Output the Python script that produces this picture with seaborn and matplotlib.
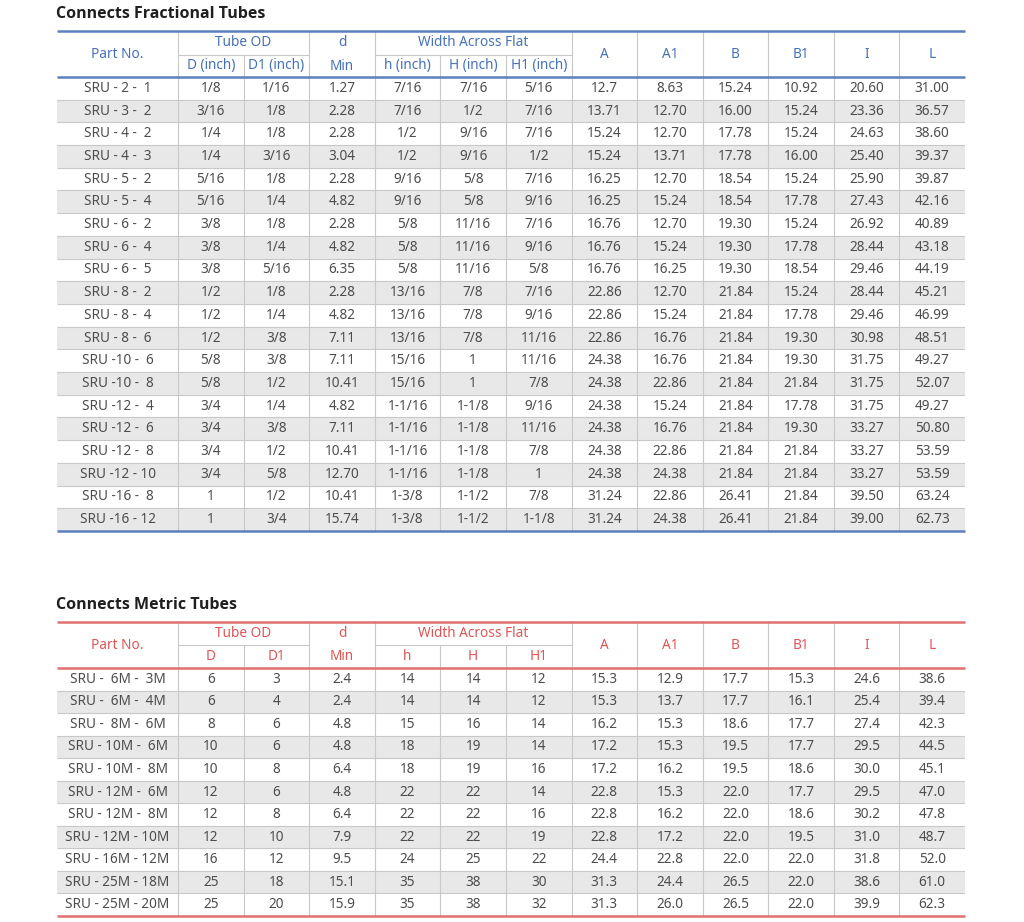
import numpy as np
import pandas as pd
import matplotlib
matplotlib.use("Agg")
import matplotlib.pyplot as plt
from matplotlib.colors import ListedColormap
import seaborn as sns

sns.set_theme(style="white")
plt.rcParams['font.family'] = ['Noto Sans', 'DejaVu Sans']

# Fractional tube table
frac_part = ["SRU - 2 -  1", "SRU - 3 -  2", "SRU - 4 -  2", "SRU - 4 -  3", "SRU - 5 -  2",
             "SRU - 5 -  4", "SRU - 6 -  2", "SRU - 6 -  4", "SRU - 6 -  5", "SRU - 8 -  2",
             "SRU - 8 -  4", "SRU - 8 -  6", "SRU -10 -  6", "SRU -10 -  8", "SRU -12 -  4",
             "SRU -12 -  6", "SRU -12 -  8", "SRU -12 - 10", "SRU -16 -  8", "SRU -16 - 12"]
frac_D = ["1/8", "3/16", "1/4", "1/4", "5/16", "5/16", "3/8", "3/8", "3/8", "1/2",
          "1/2", "1/2", "5/8", "5/8", "3/4", "3/4", "3/4", "3/4", "1", "1"]
frac_D1 = ["1/16", "1/8", "1/8", "3/16", "1/8", "1/4", "1/8", "1/4", "5/16", "1/8",
           "1/4", "3/8", "3/8", "1/2", "1/4", "3/8", "1/2", "5/8", "1/2", "3/4"]
frac_d = ["1.27", "2.28", "2.28", "3.04", "2.28", "4.82", "2.28", "4.82", "6.35", "2.28",
          "4.82", "7.11", "7.11", "10.41", "4.82", "7.11", "10.41", "12.70", "10.41", "15.74"]
frac_h = ["7/16", "7/16", "1/2", "1/2", "9/16", "9/16", "5/8", "5/8", "5/8", "13/16",
          "13/16", "13/16", "15/16", "15/16", "1-1/16", "1-1/16", "1-1/16", "1-1/16", "1-3/8", "1-3/8"]
frac_H = ["7/16", "1/2", "9/16", "9/16", "5/8", "5/8", "11/16", "11/16", "11/16", "7/8",
          "7/8", "7/8", "1", "1", "1-1/8", "1-1/8", "1-1/8", "1-1/8", "1-1/2", "1-1/2"]
frac_H1 = ["5/16", "7/16", "7/16", "1/2", "7/16", "9/16", "7/16", "9/16", "5/8", "7/16",
           "9/16", "11/16", "11/16", "7/8", "9/16", "11/16", "7/8", "1", "7/8", "1-1/8"]
frac_A = ["12.7", "13.71", "15.24", "15.24", "16.25", "16.25", "16.76", "16.76", "16.76", "22.86",
          "22.86", "22.86", "24.38", "24.38", "24.38", "24.38", "24.38", "24.38", "31.24", "31.24"]
frac_A1 = ["8.63", "12.70", "12.70", "13.71", "12.70", "15.24", "12.70", "15.24", "16.25", "12.70",
           "15.24", "16.76", "16.76", "22.86", "15.24", "16.76", "22.86", "24.38", "22.86", "24.38"]
frac_B = ["15.24", "16.00", "17.78", "17.78", "18.54", "18.54", "19.30", "19.30", "19.30", "21.84",
          "21.84", "21.84", "21.84", "21.84", "21.84", "21.84", "21.84", "21.84", "26.41", "26.41"]
frac_B1 = ["10.92", "15.24", "15.24", "16.00", "15.24", "17.78", "15.24", "17.78", "18.54", "15.24",
           "17.78", "19.30", "19.30", "21.84", "17.78", "19.30", "21.84", "21.84", "21.84", "21.84"]
frac_I = ["20.60", "23.36", "24.63", "25.40", "25.90", "27.43", "26.92", "28.44", "29.46", "28.44",
          "29.46", "30.98", "31.75", "31.75", "31.75", "33.27", "33.27", "33.27", "39.50", "39.00"]
frac_L = ["31.00", "36.57", "38.60", "39.37", "39.87", "42.16", "40.89", "43.18", "44.19", "45.21",
          "46.99", "48.51", "49.27", "52.07", "49.27", "50.80", "53.59", "53.59", "63.24", "62.73"]

# Metric tube table
met_part = ["SRU -  6M -  3M", "SRU -  6M -  4M", "SRU -  8M -  6M", "SRU - 10M -  6M",
            "SRU - 10M -  8M", "SRU - 12M -  6M", "SRU - 12M -  8M", "SRU - 12M - 10M",
            "SRU - 16M - 12M", "SRU - 25M - 18M", "SRU - 25M - 20M"]
met_D = ["6", "6", "8", "10", "10", "12", "12", "12", "16", "25", "25"]
met_D1 = ["3", "4", "6", "6", "8", "6", "8", "10", "12", "18", "20"]
met_d = ["2.4", "2.4", "4.8", "4.8", "6.4", "4.8", "6.4", "7.9", "9.5", "15.1", "15.9"]
met_h = ["14", "14", "15", "18", "18", "22", "22", "22", "24", "35", "35"]
met_H = ["14", "14", "16", "19", "19", "22", "22", "22", "25", "38", "38"]
met_H1 = ["12", "12", "14", "14", "16", "14", "16", "19", "22", "30", "32"]
met_A = ["15.3", "15.3", "16.2", "17.2", "17.2", "22.8", "22.8", "22.8", "24.4", "31.3", "31.3"]
met_A1 = ["12.9", "13.7", "15.3", "15.3", "16.2", "15.3", "16.2", "17.2", "22.8", "24.4", "26.0"]
met_B = ["17.7", "17.7", "18.6", "19.5", "19.5", "22.0", "22.0", "22.0", "22.0", "26.5", "26.5"]
met_B1 = ["15.3", "16.1", "17.7", "17.7", "18.6", "17.7", "18.6", "19.5", "22.0", "22.0", "22.0"]
met_I = ["24.6", "25.4", "27.4", "29.5", "30.0", "29.5", "30.2", "31.0", "31.8", "38.6", "39.9"]
met_L = ["38.6", "39.4", "42.3", "44.5", "45.1", "47.0", "47.8", "48.7", "52.0", "61.0", "62.3"]

frac_sub = ["D (inch)", "D1 (inch)", "h (inch)", "H (inch)", "H1 (inch)"]
met_sub = ["D", "D1", "h", "H", "H1"]
dim_cols = ["A", "A1", "B", "B1", "I", "L"]

frac_df = pd.DataFrame({"D": frac_D, "D1": frac_D1, "d": frac_d, "h": frac_h, "H": frac_H,
                        "H1": frac_H1, "A": frac_A, "A1": frac_A1, "B": frac_B, "B1": frac_B1,
                        "I": frac_I, "L": frac_L})
met_df = pd.DataFrame({"D": met_D, "D1": met_D1, "d": met_d, "h": met_h, "H": met_H,
                       "H1": met_H1, "A": met_A, "A1": met_A1, "B": met_B, "B1": met_B1,
                       "I": met_I, "L": met_L})

W, HGT = 1024, 922
fig = plt.figure(figsize=(W / 100, HGT / 100), dpi=100)
fig.patch.set_facecolor("white")

TEXT = "#4d4d4d"
GRID = "#c8c8c8"
SHADE = ListedColormap(["white", "#e8e8e8"])
FS = 9.8
X0, XP, X1 = 57, 178, 965
edges = [X0] + list(np.linspace(XP, X1, 13))


def rect(x0, y0, x1, y1):
    return [x0 / W, 1 - y1 / HGT, (x1 - x0) / W, (y1 - y0) / HGT]


def body(values, top, bottom):
    n, m = values.shape
    shade = np.tile((np.arange(n) % 2)[:, None], (1, m))
    ax = fig.add_axes(rect(XP, top, X1, bottom))
    sns.heatmap(shade, annot=values, fmt="", cmap=SHADE, vmin=0, vmax=1, cbar=False,
                xticklabels=False, yticklabels=False, ax=ax,
                annot_kws=dict(color=TEXT, fontsize=FS))
    ax.hlines(np.arange(1, n), 0, m, color=GRID, lw=0.8)
    ax.vlines(np.arange(0, m), 0, n, color=GRID, lw=0.8, clip_on=False)
    return ax


def part_col(parts, top, bottom):
    n = len(parts)
    shade = (np.arange(n) % 2)[:, None]
    ax = fig.add_axes(rect(X0, top, XP, bottom))
    sns.heatmap(shade, annot=np.array(parts)[:, None], fmt="", cmap=SHADE, vmin=0, vmax=1,
                cbar=False, xticklabels=False, yticklabels=False, ax=ax,
                annot_kws=dict(color=TEXT, fontsize=FS))
    ax.hlines(np.arange(1, n), 0, 1, color=GRID, lw=0.8)
    return ax


def table(ov, title, df, parts, subs, accent, head_col, top, mid, hb, bottom):
    part_col(parts, hb, bottom)
    body(df.values, hb, bottom)
    ov.text(X0 - 1, top - 17, title, fontsize=11.5, fontweight="bold", color="#1f1f1f",
            va="center", ha="left", family=["Open Sans", "DejaVu Sans"])
    # grey header separators
    full = [1, 3, 4, 7, 8, 9, 10, 11, 12]
    for i in full:
        ov.plot([edges[i], edges[i]], [top, hb], color=GRID, lw=0.8)
    for i in [2, 5, 6]:
        ov.plot([edges[i], edges[i]], [mid, hb], color=GRID, lw=0.8)
    ov.plot([edges[1], edges[3]], [mid, mid], color=GRID, lw=0.8)
    ov.plot([edges[4], edges[7]], [mid, mid], color=GRID, lw=0.8)
    # accent rules
    for y in [top, hb, bottom]:
        ov.plot([X0, X1], [y, y], color=accent, lw=1.8, solid_capstyle="butt")
    r1 = (top + mid) / 2
    r2 = (mid + hb) / 2
    rb = (top + hb) / 2
    kw = dict(color=head_col, fontsize=FS, ha="center", va="center")
    ov.text((edges[0] + edges[1]) / 2, rb, "Part No.", **kw)
    ov.text(edges[2], r1, "Tube OD", **kw)
    ov.text((edges[3] + edges[4]) / 2, r1, "d", **kw)
    ov.text((edges[3] + edges[4]) / 2, r2, "Min", **kw)
    ov.text((edges[4] + edges[7]) / 2, r1, "Width Across Flat", **kw)
    sub_idx = [1, 2, 4, 5, 6]
    for lab, i in zip(subs, sub_idx):
        ov.text((edges[i] + edges[i + 1]) / 2, r2, lab, **kw)
    for j, lab in enumerate(dim_cols):
        i = 7 + j
        ov.text((edges[i] + edges[i + 1]) / 2, rb, lab, **kw)


ov = fig.add_axes([0, 0, 1, 1], zorder=5)
ov.set_xlim(0, W)
ov.set_ylim(HGT, 0)
ov.axis("off")
ov.patch.set_alpha(0)

table(ov, "Connects Fractional Tubes", frac_df, frac_part, frac_sub,
      "#5b80bd", "#4571b8", 31, 55, 77, 531)
table(ov, "Connects Metric Tubes", met_df, met_part, met_sub,
      "#e07070", "#e05555", 622, 645, 668, 916)

plt.savefig("out.png", dpi=100, facecolor="white")
